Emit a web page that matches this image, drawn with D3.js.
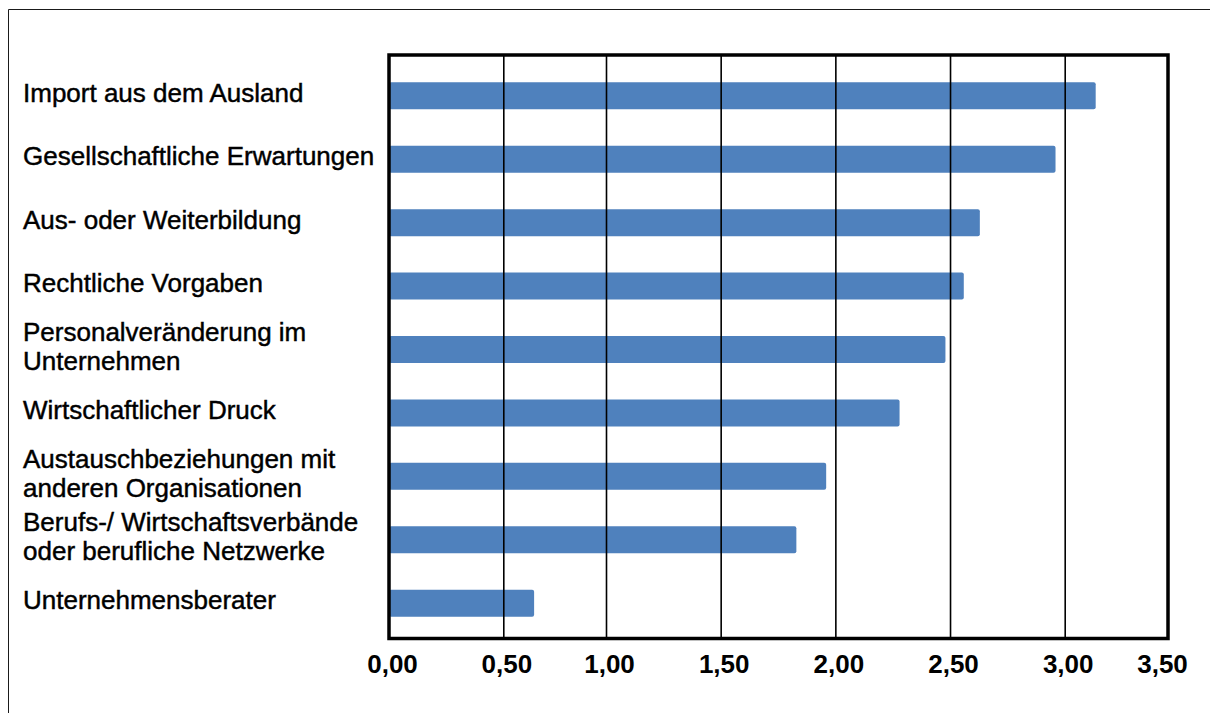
<!DOCTYPE html>
<html>
<head>
<meta charset="utf-8">
<script src="https://cdn.jsdelivr.net/npm/d3@7"></script>
<style>
  html, body { margin: 0; padding: 0; background: #fff; }
  svg { display: block; }
  text { font-family: "Liberation Sans", Arial, sans-serif; }
</style>
</head>
<body>
<svg id="chart" width="1210" height="713"></svg>
<script>
// ---- data ----
const categories = [
  "Import aus dem Ausland",
  "Gesellschaftliche Erwartungen",
  "Aus- oder Weiterbildung",
  "Rechtliche Vorgaben",
  "Personalveränderung im\nUnternehmen",
  "Wirtschaftlicher Druck",
  "Austauschbeziehungen mit\nanderen Organisationen",
  "Berufs-/ Wirtschaftsverbände\noder berufliche Netzwerke",
  "Unternehmensberater"
];
const values = [3.15, 2.96, 2.63, 2.56, 2.48, 2.28, 1.96, 1.83, 0.65];
const tickValues = [0, 0.5, 1, 1.5, 2, 2.5, 3, 3.5];
const gridValues = [0.5, 1, 1.5, 2, 2.5, 3];

// ---- layout ----
const W = 1210, H = 713;
const plot = { left: 389, top: 55, right: 1168, bottom: 638.5 };

const svg = d3.select("#chart");

// outer frame (top and left edges visible)
svg.append("path")
  .attr("d", `M8.5,${H} V9.5 H${W}`)
  .attr("fill", "none")
  .attr("stroke", "#1a1a1a")
  .attr("stroke-width", 1);

// scales
const x = d3.scaleLinear()
  .domain([0, 0.5, 1, 3, 3.5])
  .range([plot.left, 503.3, 606, 1064.7, plot.right]);

const y = d3.scaleBand()
  .domain(categories)
  .range([57, 642])
  .paddingInner(0.574)
  .paddingOuter(0.4);

const locale = d3.formatLocale({ decimal: ",", thousands: ".", grouping: [3], currency: ["", "€"] });
const fmt = locale.format(".2f");

// bars
svg.append("g").selectAll("rect")
  .data(values)
  .join("rect")
  .attr("x", x(0))
  .attr("y", (d, i) => y(categories[i]))
  .attr("width", d => x(d) - x(0))
  .attr("height", y.bandwidth())
  .attr("rx", 2)
  .attr("fill", "#4F81BD");

// gridlines
const grid = svg.append("g")
  .attr("transform", `translate(0,${plot.bottom})`)
  .call(d3.axisBottom(x).tickValues(gridValues).tickSize(-(plot.bottom - plot.top)).tickFormat(""));
grid.select(".domain").remove();
grid.selectAll("line").attr("stroke", "#000").attr("stroke-width", 1.6);

// plot frame
svg.append("rect")
  .attr("x", plot.left)
  .attr("y", plot.top)
  .attr("width", plot.right - plot.left)
  .attr("height", plot.bottom - plot.top)
  .attr("fill", "none")
  .attr("stroke", "#000")
  .attr("stroke-width", 3.5);

// x-axis labels
const xAxis = svg.append("g")
  .attr("transform", `translate(0,${plot.bottom})`)
  .call(d3.axisBottom(x).tickValues(tickValues).tickSize(0).tickPadding(16).tickFormat(fmt));
xAxis.select(".domain").remove();
xAxis.selectAll("text")
  .attr("font-family", "'Liberation Sans', Arial, sans-serif")
  .attr("font-size", 26)
  .attr("font-weight", "bold")
  .attr("fill", "#000")
  .attr("dx", (d, i) => i === tickValues.length - 1 ? -6 : 3);

// category labels
const lineH = 29;
svg.append("g").selectAll("text")
  .data(categories)
  .join("text")
  .attr("x", 23)
  .attr("font-size", 26)
  .attr("fill", "#000")
  .attr("stroke", "#000")
  .attr("stroke-width", 0.45)
  .each(function(d) {
    const lines = d.split("\n");
    const c = y(d) + y.bandwidth() / 2 - 3;
    const first = c - (lines.length - 1) * lineH / 2 + 9;
    const t = d3.select(this);
    lines.forEach((ln, k) => {
      t.append("tspan").attr("x", 23).attr("y", first + k * lineH).text(ln);
    });
  });
</script>
</body>
</html>
